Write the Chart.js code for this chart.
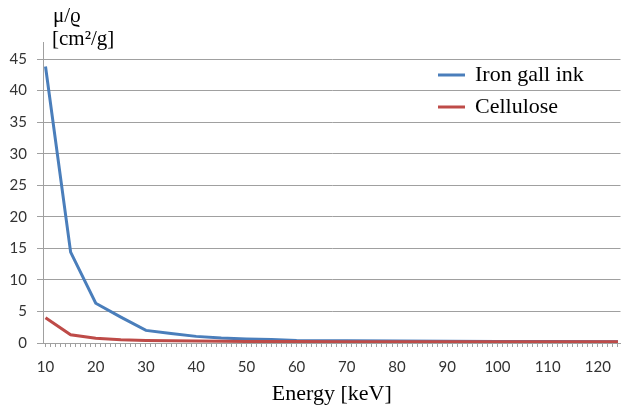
<!DOCTYPE html>
<html>
<head>
<meta charset="utf-8">
<script src="https://cdn.jsdelivr.net/npm/chart.js@4"></script>
<style>
  html, body { margin: 0; padding: 0; background: #fff; }
  #wrap { width: 629px; height: 409px; }
</style>
</head>
<body>
<div id="wrap"><canvas id="muChart"></canvas></div>
<script>
// Energy points (keV) and attenuation values (cm2/g)
const energyPoints = [10, 15, 20, 25, 30, 35, 40, 45, 50, 55, 60, 70, 80, 90, 100, 110, 124];
const inkValues = [43.8, 14.4, 6.3, 4.1, 2.0, 1.5, 1.05, 0.8, 0.65, 0.55, 0.4, 0.35, 0.3, 0.27, 0.25, 0.22, 0.2];
const celluloseValues = [4.0, 1.3, 0.75, 0.5, 0.4, 0.35, 0.3, 0.27, 0.25, 0.23, 0.22, 0.21, 0.2, 0.2, 0.2, 0.2, 0.2];
const yTicks = [0, 5, 10, 15, 20, 25, 30, 35, 40, 45];

// category axis: one slot per keV, labels every 10
const energyLabels = [];
for (let e = 10; e <= 124; e++) energyLabels.push(e);

function spread(values) {
    return energyLabels.map(e => {
        const i = energyPoints.indexOf(e);
        return i >= 0 ? values[i] : null;
    });
}

const gridGray = '#a0a0a0';

const textPlugin = {
    id: 'texts',
    afterDraw(chart) {
        const ctx = chart.ctx;
        const area = chart.chartArea;
        ctx.save();
        // axis line runs a little above the top gridline
        ctx.strokeStyle = gridGray;
        ctx.lineWidth = 1;
        ctx.beginPath();
        ctx.moveTo(area.left + 0.5, 42);
        ctx.lineTo(area.left + 0.5, area.top);
        ctx.stroke();

        ctx.fillStyle = '#000';
        ctx.font = '21px "Liberation Serif"';
        ctx.textAlign = 'left';
        ctx.textBaseline = 'middle';
        ctx.fillText('μ/ϱ', 53, 16);
        ctx.fillText('[cm²/g]', 52, 39);

        ctx.font = '22px "Liberation Serif"';
        ctx.textAlign = 'center';
        ctx.fillText('Energy [keV]', (area.left + area.right) / 2, 394);

        // legend
        ctx.textAlign = 'left';
        chart.data.datasets.forEach((ds, i) => {
            const y = 75 + i * 32;
            ctx.strokeStyle = ds.borderColor;
            ctx.lineWidth = 3;
            ctx.beginPath();
            ctx.moveTo(438, y);
            ctx.lineTo(465, y);
            ctx.stroke();
            ctx.fillStyle = '#000';
            ctx.fillText(ds.label, 475, y);
        });
        ctx.restore();
    }
};

new Chart(document.getElementById('muChart'), {
    type: 'line',
    data: {
        labels: energyLabels,
        datasets: [{
            label: 'Iron gall ink',
            data: spread(inkValues),
            borderColor: '#4a7ebb',
            borderWidth: 3,
            pointRadius: 0,
            spanGaps: true,
            tension: 0,
            order: 2
        }, {
            label: 'Cellulose',
            data: spread(celluloseValues),
            borderColor: '#be4b48',
            borderWidth: 3,
            pointRadius: 0,
            spanGaps: true,
            tension: 0,
            order: 1
        }]
    },
    options: {
        responsive: true,
        maintainAspectRatio: false,
        animation: false,
        layout: { padding: { top: 59, right: 1, left: 0, bottom: 0 } },
        plugins: {
            legend: { display: false },
            tooltip: { enabled: false }
        },
        scales: {
            x: {
                type: 'category',
                offset: true,
                grid: { drawOnChartArea: false, drawTicks: true, tickLength: 4, color: gridGray },
                border: { color: gridGray },
                ticks: {
                    autoSkip: false,
                    maxRotation: 0,
                    padding: 11,
                    color: '#333',
                    font: { family: 'Lato', size: 15 },
                    callback: function(value) {
                        const l = this.getLabelForValue(value);
                        return l % 10 === 0 ? String(l) : '';
                    }
                },
                afterFit(scale) { scale.height = 66; }
            },
            y: {
                min: 0,
                max: 45,
                afterBuildTicks(scale) { scale.ticks = yTicks.map(v => ({ value: v })); },
                grid: { color: gridGray, tickLength: 6 },
                border: { color: gridGray },
                ticks: {
                    padding: 10,
                    color: '#333',
                    font: { family: 'Lato', size: 15 }
                },
                afterFit(scale) { scale.width = 43; }
            }
        }
    },
    plugins: [textPlugin]
});
</script>
</body>
</html>
